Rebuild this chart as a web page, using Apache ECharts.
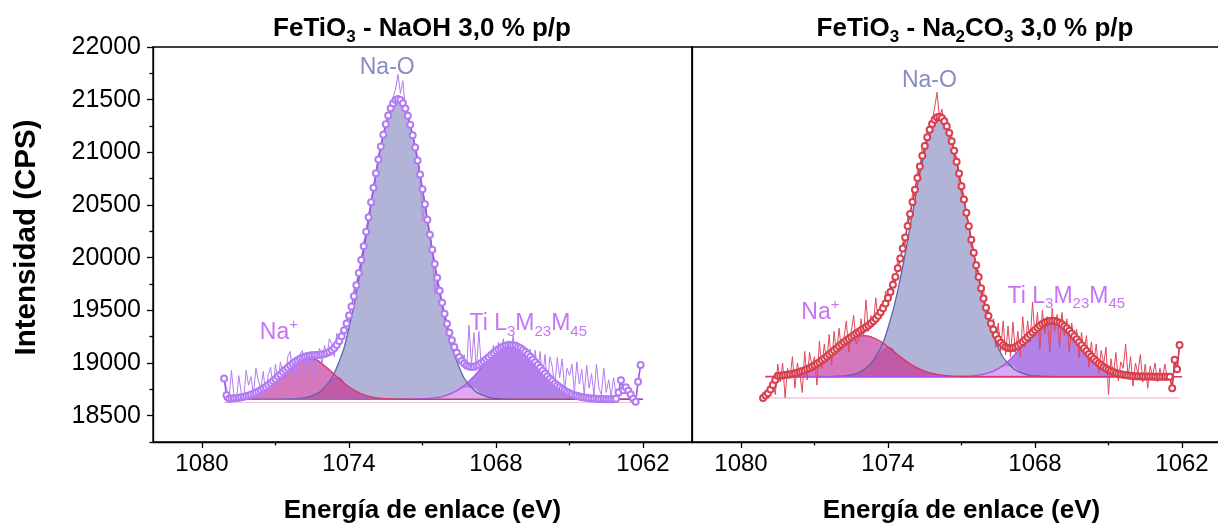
<!DOCTYPE html>
<html><head><meta charset="utf-8">
<script src="https://cdn.jsdelivr.net/npm/echarts@6/dist/echarts.min.js"></script>
<style>html,body{margin:0;padding:0;background:#fff}#c{width:1218px;height:525px}</style>
</head><body><div id="c"></div>
<script>
// ---- sampling of the spectra (binding energy, eV) ----
const E_START = 1079.1, E_STEP = 0.1, N_PTS = 171;
const ENERGY = Array.from({length: N_PTS}, (_, i) => +(E_START - i * E_STEP).toFixed(1));

// ---- left panel: FeTiO3 - NaOH ----
const L_RAW = [
18854,18760,18640,18930,18700,18630,18880,18720,18640,18930,
18790,18870,18700,18950,18830,18760,18920,18690,18880,18960,
18770,18990,18800,19010,18900,18840,19060,19110,18890,19040,
18850,19080,19120,18900,19090,18950,19100,18880,19060,19140,
18990,19170,19060,19230,19180,19060,19280,19210,19330,19260,
19420,19390,19530,19700,19680,19860,19930,20150,20200,20420,
20480,20700,20760,20980,21030,21200,21240,21380,21400,21520,
21600,21740,21560,21680,21420,21380,21230,21190,21010,20950,
20760,20350,20520,20330,20240,20050,19650,19790,19710,19520,
19500,19330,19300,19180,19190,19030,19120,18990,19080,18950,
19360,18980,19290,18930,19300,18960,19040,18900,19100,19000,
19170,18950,19200,19060,19230,18980,19210,19100,19260,19020,
19190,18860,19150,19090,18980,19130,18830,19120,18890,19110,
18850,19080,18790,19060,18960,18770,19050,18860,19040,18750,
18950,18880,18990,18720,19010,18800,18940,18700,18980,18760,
18900,18690,18990,18760,18700,18950,18720,18840,18680,18860,
18700,18720,18837,18742,18770,18736,18700,18660,18631,18821,
18980];
const L_FIT = [
18854,18695,18661,18662,18665,18667,18670,18674,18679,18685,
18691,18699,18708,18718,18730,18743,18758,18773,18790,18809,
18829,18849,18871,18892,18914,18935,18956,18976,18995,19012,
19027,19040,19051,19059,19066,19071,19074,19076,19077,19079,
19082,19086,19094,19105,19121,19143,19172,19209,19255,19310,
19375,19451,19537,19633,19739,19855,19978,20109,20245,20384,
20525,20664,20801,20932,21055,21167,21266,21350,21418,21467,
21497,21507,21496,21465,21415,21347,21261,21161,21047,20922,
20789,20649,20506,20361,20217,20076,19939,19809,19686,19572,
19467,19373,19288,19215,19151,19098,19054,19020,18995,18977,
18967,18963,18965,18973,18984,18999,19016,19035,19055,19075,
19095,19114,19130,19145,19157,19165,19170,19171,19169,19163,
19153,19140,19124,19105,19083,19059,19034,19008,18981,18954,
18927,18901,18875,18851,18828,18806,18787,18769,18752,18738,
18725,18713,18704,18695,18688,18682,18676,18672,18669,18666,
18663,18662,18660,18659,18658,18657,18657,18656,18656,18655,
18660,18720,18837,18742,18770,18736,18700,18660,18631,18821,
18980];

// ---- right panel: FeTiO3 - Na2CO3 ----
const R_RAW = [
18668,18692,18712,18748,18860,18700,18990,18820,19000,18670,
18950,18860,19060,18760,19000,18900,18720,19110,18840,19100,
18960,19060,18790,19210,18950,19180,19020,19270,18980,19300,
19080,19330,19120,19240,19400,19100,19300,19450,19180,19220,
19420,19250,19600,19300,19450,19360,19620,19400,19560,19470,
19680,19580,19740,19800,19760,20000,19950,20150,20120,20380,
20360,20610,20580,20830,20800,21050,21000,21200,21160,21300,
21420,21570,21330,21410,21250,21300,21120,21150,20940,20960,
20720,20600,20590,20380,20330,20100,20070,19820,19880,19650,
19700,19420,19520,19300,19420,19150,19380,19110,19400,19080,
19350,19060,19390,19100,19300,19060,19440,19150,19400,19200,
19580,19250,19480,19130,19500,19280,19440,19100,19520,19300,
19460,19150,19480,19260,19420,19100,19380,19190,19320,19050,
19290,19080,19260,18960,19200,19010,19180,18900,19120,18990,
19150,18700,19040,18880,19100,18830,19010,18950,19180,18860,
19060,18780,19000,18900,19080,18820,18990,18760,18970,18880,
19000,18820,18950,18840,18990,18860,18870,18760,19030,18940,
19170];
const R_FIT = [
18668,18692,18712,18748,18792,18838,18878,18880,18882,18885,
18888,18892,18897,18902,18908,18915,18923,18932,18942,18953,
18965,18978,18993,19008,19025,19042,19061,19080,19099,19119,
19138,19158,19177,19196,19214,19231,19248,19264,19280,19295,
19310,19325,19340,19357,19375,19396,19420,19448,19481,19519,
19564,19616,19675,19742,19817,19900,19991,20088,20192,20301,
20414,20529,20644,20756,20865,20968,21061,21144,21214,21270,
21310,21333,21338,21326,21295,21248,21184,21106,21014,20911,
20798,20678,20553,20426,20298,20171,20047,19928,19816,19710,
19613,19525,19446,19376,19317,19266,19225,19192,19168,19152,
19142,19140,19143,19151,19163,19181,19200,19221,19244,19268,
19291,19314,19335,19354,19370,19384,19393,19399,19401,19399,
19392,19381,19367,19350,19329,19306,19281,19254,19226,19197,
19169,19141,19113,19086,19062,19038,19016,18996,18978,18962,
18947,18935,18924,18914,18906,18899,18893,18889,18885,18882,
18879,18877,18875,18874,18873,18872,18872,18871,18871,18870,
18870,18870,18870,18870,18870,18870,18870,18760,19030,18940,
19170];

// ---- fitted components (height above background) ----
const COMP_E = [1079.0,1078.5,1078.0,1077.5,1077.0,1076.5,1076.0,1075.5,1075.0,1074.5,
1074.0,1073.5,1073.0,1072.5,1072.0,1071.5,1071.0,1070.5,1070.0,1069.5,
1069.0,1068.5,1068.0,1067.5,1067.0,1066.5,1066.0,1065.5,1065.0,1064.5,
1064.0,1063.5,1063.0,1062.5,1062.0];
const L_NA  = [5,15,44,102,194,299,376,384,319,215,118,53,19,6,1,0,0,0,0,0,0,0,0,0,0,0,0,0,0,0,0,0,0,0,0];
const L_NAO = [0,0,0,0,0,2,9,35,113,302,678,1271,1990,2605,2850,2605,1990,1271,678,302,113,35,9,2,0,0,0,0,0,0,0,0,0,0,0];
const L_TI  = [0,0,0,0,0,0,0,0,0,0,0,0,0,0,0,1,4,14,40,97,196,326,450,513,485,379,246,132,58,21,7,2,0,0,0];
const R_NA  = [2,8,22,53,108,190,283,360,390,360,283,190,108,53,22,8,2,1,0,0,0,0,0,0,0,0,0,0,0,0,0,0,0,0,0];
const R_NAO = [0,0,0,0,0,1,4,18,65,190,463,931,1551,2138,2441,2306,1804,1168,626,278,102,31,8,2,0,0,0,0,0,0,0,0,0,0,0];
const R_TI  = [0,0,0,0,0,0,0,0,0,0,0,0,0,0,0,0,2,9,29,77,168,299,436,522,511,411,271,146,65,23,7,2,0,0,0];

const L_BASE = 18655, L_FLOOR = 18625;
const R_BASE = 18870, R_FLOOR = 18668;
const R_BASE_SPAN = [1078.5, 1062.5];

// ---- axes ----
const Y_MIN = 18250, Y_MAX = 22000;
const Y_MAJOR = [18500,19000,19500,20000,20500,21000,21500,22000];
const Y_MINOR = [18250,18750,19250,19750,20250,20750,21250,21750];
const X_MIN = 1060, X_MAX = 1082;
const X_MAJOR = [1080,1074,1068,1062];
const X_MINOR = [1077,1071,1065];

// ---- annotations [text, x, y] ----
const L_LABELS = [['Na-O',1072.44,21800],['Na+',1076.86,19290],['Ti',1069.08,19370]];
const R_LABELS = [['Na-O',1072.31,21680],['Na+',1076.76,19480],['Ti',1069.12,19630]];

const FONT = '"Liberation Sans", Arial, Helvetica, sans-serif';

function pts(xs, ys) { return xs.map((x, i) => [x, ys[i]]); }
function comp(h, base) { return COMP_E.map((x, i) => [x, base + h[i]]); }
function overlap(a, b, base) { return COMP_E.map((x, i) => [x, base + Math.min(a[i], b[i])]); }
const plain = v => String(v);

function labelItem(l, colNaO, colPk) {
  const [t, x, y] = l;
  const c = t === 'Na-O' ? colNaO : colPk;
  const rich = {
    m: {fontSize: 23, fontFamily: FONT, color: c, lineHeight: 30, verticalAlign: 'middle'},
    s: {fontSize: 15, fontFamily: FONT, color: c, lineHeight: 30, verticalAlign: 'bottom'},
    u: {fontSize: 15, fontFamily: FONT, color: c, lineHeight: 26, verticalAlign: 'top'}
  };
  let fmt, pos;
  if (t === 'Na-O') { fmt = '{m|Na-O}'; pos = 'inside'; }
  else if (t === 'Na+') { fmt = '{m|Na}{u|+}'; pos = 'inside'; }
  else { fmt = '{m|Ti L}{s|3}{m|M}{s|23}{m|M}{s|45}'; pos = 'right'; }
  return {value: [x, y], label: {show: true, position: pos, distance: 0, formatter: fmt, rich}};
}

function panel(idx, d) {
  const xi = idx * 2, yi = idx * 2;
  const base = {type: 'line', xAxisIndex: xi, yAxisIndex: yi, symbol: 'none', silent: true, animation: false};
  const fill = (data, color) => Object.assign({}, base, {data, smooth: 0.5, z: 1,
    lineStyle: {width: 0, opacity: 0}, areaStyle: {color, opacity: 1, origin: d.base}});
  const edge = (data, color) => Object.assign({}, base, {data, smooth: 0.5, z: 3,
    lineStyle: {color, width: 1.3}});
  const na = comp(d.na, d.base), nao = comp(d.nao, d.base), ti = comp(d.ti, d.base);
  return [
    fill(nao, '#b1b3d7'),
    fill(ti, '#b282e8'),
    fill(na, '#d577bd'),
    fill(overlap(d.na, d.nao, d.base), '#c15ba7'),
    fill(overlap(d.ti, d.nao, d.base), '#dcaaf4'),
    Object.assign({}, base, {data: [[ENERGY[0], d.floor], [ENERGY[N_PTS - 1], d.floor]], z: 2,
      lineStyle: {color: d.floorCol, width: 1}}),
    Object.assign({}, base, {data: [[d.baseSpan[0], d.base], [d.baseSpan[1], d.base]], z: 2,
      lineStyle: {color: d.baseCol, width: d.baseW}}),
    edge(nao, '#5b63ab'),
    edge(ti, '#b04ef0'),
    edge(na, '#d6346c'),
    Object.assign({}, base, {data: pts(ENERGY, d.raw), z: 4, lineStyle: {color: d.rawCol, width: 1}}),
    Object.assign({}, base, {data: pts(ENERGY, d.fit), z: 5, symbol: 'emptyCircle', symbolSize: 6,
      lineStyle: {color: d.fitCol, width: 1.5}, itemStyle: {color: d.circCol, borderWidth: 1.1}}),
    {type: 'scatter', xAxisIndex: xi, yAxisIndex: yi, symbolSize: 0, z: 10, silent: true, animation: false,
      data: d.labels.map(l => labelItem(l, '#6a6fb2', '#b653f2'))}
  ];
}

const series = [].concat(
  panel(0, {raw: L_RAW, fit: L_FIT, na: L_NA, nao: L_NAO, ti: L_TI, base: L_BASE, floor: L_FLOOR,
    baseSpan: [ENERGY[0], ENERGY[N_PTS - 1]], baseCol: '#a27489', baseW: 1.5, floorCol: '#efc4dc',
    rawCol: '#b57cf2', fitCol: '#9c58e6', circCol: '#b27bf3', labels: L_LABELS}),
  panel(1, {raw: R_RAW, fit: R_FIT, na: R_NA, nao: R_NAO, ti: R_TI, base: R_BASE, floor: R_FLOOR,
    baseSpan: R_BASE_SPAN, baseCol: '#8a8a8a', baseW: 2, floorCol: '#f0a6cb',
    rawCol: '#e0475a', fitCol: '#cf3a49', circCol: '#d8404f', labels: R_LABELS})
);

const black = '#000';
function xAxes(gi) {
  const common = {type: 'value', gridIndex: gi, min: X_MIN, max: X_MAX, inverse: true, position: 'bottom', offset: 0,
    splitLine: {show: false}};
  return [
    Object.assign({}, common, {
      axisLine: {show: true, lineStyle: {color: black, width: 1.3}},
      axisTick: {show: true, inside: false, length: 6, customValues: X_MAJOR, lineStyle: {color: black, width: 1.3}},
      axisLabel: {show: true, customValues: X_MAJOR, formatter: plain, fontSize: 24, fontFamily: FONT, color: black, margin: 10},
      name: 'Energía de enlace (eV)', nameLocation: 'middle', nameGap: 56,
      nameTextStyle: {fontSize: 26, fontWeight: 'bold', fontFamily: FONT, color: black}
    }),
    Object.assign({}, common, {
      axisLine: {show: false},
      axisTick: {show: true, inside: false, length: 3.5, customValues: X_MINOR, lineStyle: {color: black, width: 1.3}},
      axisLabel: {show: false}
    })
  ];
}
const yAxis = [
  {type: 'value', gridIndex: 0, position: 'left', offset: 0, min: Y_MIN, max: Y_MAX, splitLine: {show: false},
    axisLine: {show: true, lineStyle: {color: black, width: 1.3}},
    axisTick: {show: true, inside: false, length: 6, customValues: Y_MAJOR, lineStyle: {color: black, width: 1.3}},
    axisLabel: {show: true, customValues: Y_MAJOR, formatter: plain, fontSize: 25, fontFamily: FONT, color: black, margin: 12},
    name: 'Intensidad (CPS)', nameLocation: 'middle', nameGap: 111,
    nameTextStyle: {fontSize: 29.5, fontWeight: 'bold', fontFamily: FONT, color: black, padding: [0, 0, 0, 14]}},
  {type: 'value', gridIndex: 0, position: 'left', offset: 0, min: Y_MIN, max: Y_MAX, splitLine: {show: false},
    axisLine: {show: false},
    axisTick: {show: true, inside: false, length: 3.5, customValues: Y_MINOR, lineStyle: {color: black, width: 1.3}},
    axisLabel: {show: false}},
  {type: 'value', gridIndex: 1, position: 'left', offset: 0, min: Y_MIN, max: Y_MAX, splitLine: {show: false},
    axisLine: {show: true, lineStyle: {color: black, width: 1.3}},
    axisTick: {show: false}, axisLabel: {show: false}}
];

const titleRich = {
  b: {fontSize: 26, fontWeight: 'bold', fontFamily: FONT, color: black, lineHeight: 34, verticalAlign: 'middle'},
  s: {fontSize: 17, fontWeight: 'bold', fontFamily: FONT, color: black, lineHeight: 34, verticalAlign: 'bottom'}
};

const option = {
  backgroundColor: '#fff',
  animation: false,
  title: [
    {text: '{b|FeTiO}{s|3}{b| - NaOH 3,0 % p/p}', left: 422, top: 12, textAlign: 'center', padding: 0,
      textStyle: {rich: titleRich}},
    {text: '{b|FeTiO}{s|3}{b| - Na}{s|2}{b|CO}{s|3}{b| 3,0 % p/p}', left: 975, top: 12, textAlign: 'center', padding: 0,
      textStyle: {rich: titleRich}}
  ],
  grid: [
    {left: 153, top: 47, width: 539, height: 395, show: true, borderColor: black, borderWidth: 1.3,
      backgroundColor: 'transparent', outerBoundsMode: 'none', containLabel: false},
    {left: 692, top: 47, width: 539, height: 395, show: true, borderColor: black, borderWidth: 1.3,
      backgroundColor: 'transparent', outerBoundsMode: 'none', containLabel: false}
  ],
  xAxis: [].concat(xAxes(0), xAxes(1)),
  yAxis,
  series
};

const chart = echarts.init(document.getElementById('c'), null, {renderer: 'canvas'});
chart.setOption(option);
</script>
</body></html>
